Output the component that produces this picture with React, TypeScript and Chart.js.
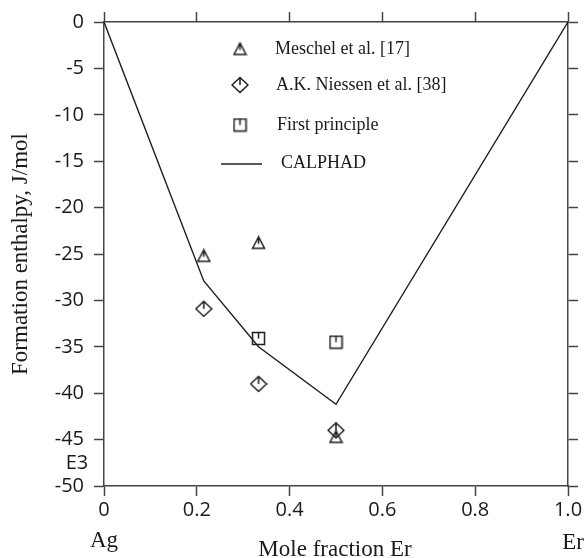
import React, { useEffect, useRef } from "react";
import { Chart, registerables } from "chart.js";

Chart.register(...registerables);

const calphadX = [0, 0.215, 0.333, 0.5, 1.0];
const calphadY = [0, -27.9, -35.0, -41.2, 0];
const meschelX = [0.215, 0.333, 0.5];
const meschelY = [-25.2, -23.8, -44.7];
const niessenX = [0.215, 0.333, 0.5];
const niessenY = [-30.9, -39.0, -44.0];
const firstX = [0.333, 0.5];
const firstY = [-34.1, -34.5];

const xTickLabels = ["0", "0.2", "0.4", "0.6", "0.8", "1.0"];
const yTickLabels = ["-50", "-45", "-40", "-35", "-30", "-25", "-20", "-15", "-10", "-5", "0"];

const seriesNames = ["Meschel et al. [17]", "A.K. Niessen et al. [38]", "First principle", "CALPHAD"];

const INK = "#1e1e1e";
const AXIS = "#444";

function makeMarker(kind: string): HTMLCanvasElement {
  const c = document.createElement("canvas");
  const s = kind === "diamond" ? 18 : 15;
  c.width = s;
  c.height = s;
  const g = c.getContext("2d")!;
  g.strokeStyle = INK;
  g.lineWidth = 1.5;
  const m = s / 2;
  g.beginPath();
  if (kind === "triangle") {
    g.moveTo(m, 1.5);
    g.lineTo(1.5, s - 2);
    g.lineTo(s - 1.5, s - 2);
    g.closePath();
    g.moveTo(m, 1.5);
    g.lineTo(m, m + 1);
  } else if (kind === "diamond") {
    g.moveTo(m, 1.5);
    g.lineTo(s - 1, m);
    g.lineTo(m, s - 1.5);
    g.lineTo(1, m);
    g.closePath();
    g.moveTo(m, 1.5);
    g.lineTo(m, m);
  } else {
    g.rect(1.5, 1.5, s - 3, s - 3);
    g.moveTo(m, 1.5);
    g.lineTo(m, m);
  }
  g.stroke();
  return c;
}

export default function App() {
  const ref = useRef<HTMLCanvasElement | null>(null);

  useEffect(() => {
    document.body.style.margin = "0";
    const tri = makeMarker("triangle");
    const dia = makeMarker("diamond");
    const sq = makeMarker("square");

    const overlay = {
      id: "overlay",
      afterDraw(chart: any) {
        const ctx = chart.ctx;
        ctx.save();
        ctx.fillStyle = "#1a1a1a";
        // legend
        ctx.font = "18px 'Liberation Serif'";
        ctx.textAlign = "left";
        ctx.textBaseline = "middle";
        const rows = [
          { img: tri, y: 49, tx: 275 },
          { img: dia, y: 85, tx: 276 },
          { img: sq, y: 125, tx: 277 },
        ];
        rows.forEach((r, i) => {
          ctx.drawImage(r.img, 240 - r.img.width / 2, r.y - r.img.height / 2);
          ctx.fillText(seriesNames[i], r.tx, r.y);
        });
        ctx.strokeStyle = "#222";
        ctx.lineWidth = 1.3;
        ctx.beginPath();
        ctx.moveTo(221, 164);
        ctx.lineTo(262, 164);
        ctx.stroke();
        ctx.fillText(seriesNames[3], 281, 163);

        // axis titles
        ctx.font = "23px 'Liberation Serif'";
        ctx.textAlign = "center";
        ctx.textBaseline = "alphabetic";
        ctx.fillText("Mole fraction Er", 335, 556);
        ctx.fillText("Ag", 104, 547);
        ctx.fillText("Er", 573, 549);
        ctx.save();
        ctx.translate(27, 254);
        ctx.rotate(-Math.PI / 2);
        ctx.textBaseline = "alphabetic";
        ctx.fillText("Formation enthalpy, J/mol", 0, 0);
        ctx.restore();

        ctx.font = "20px 'Open Sans'";
        ctx.textAlign = "center";
        ctx.textBaseline = "middle";
        ctx.fillText("E3", 77, 463);
        ctx.restore();
      },
    };

    const axisCommon = {
      type: "linear",
      grid: {
        drawOnChartArea: false,
        drawTicks: true,
        tickLength: 10,
        tickColor: AXIS,
        tickWidth: 1.5,
      },
      border: { display: true, color: AXIS, width: 1.5 },
    };

    const chart = new Chart(ref.current!, {
      type: "scatter",
      data: {
        datasets: [
          {
            label: seriesNames[3],
            type: "line",
            data: calphadX.map((x, i) => ({ x, y: calphadY[i] })),
            borderColor: "#1e1e1e",
            borderWidth: 1.4,
            pointRadius: 0,
            tension: 0,
            fill: false,
          },
          {
            label: seriesNames[0],
            data: meschelX.map((x, i) => ({ x, y: meschelY[i] })),
            pointStyle: tri,
            pointRadius: 7,
          },
          {
            label: seriesNames[1],
            data: niessenX.map((x, i) => ({ x, y: niessenY[i] })),
            pointStyle: dia,
            pointRadius: 8,
          },
          {
            label: seriesNames[2],
            data: firstX.map((x, i) => ({ x, y: firstY[i] })),
            pointStyle: sq,
            pointRadius: 7,
          },
        ] as any,
      },
      options: {
        animation: false,
        responsive: false,
        maintainAspectRatio: false,
        layout: { padding: 0 },
        plugins: {
          legend: { display: false },
          tooltip: { enabled: false },
        },
        scales: {
          x: {
            ...axisCommon,
            position: "bottom",
            min: 0,
            max: 1,
            ticks: {
              stepSize: 0.2,
              color: "#1a1a1a",
              font: { family: "'Open Sans'", size: 20 },
              padding: 2,
              maxRotation: 0,
              callback: (_v: any, i: number) => xTickLabels[i],
            },
            afterFit: (s: any) => {
              s.height = 72;
            },
          },
          x2: {
            ...axisCommon,
            position: "top",
            min: 0,
            max: 1,
            ticks: { stepSize: 0.2, display: false },
            afterFit: (s: any) => {
              s.height = 22;
            },
          },
          y: {
            ...axisCommon,
            position: "left",
            min: -50,
            max: 0,
            ticks: {
              stepSize: 5,
              color: "#1a1a1a",
              font: { family: "'Open Sans'", size: 20 },
              padding: 10,
              callback: (_v: any, i: number) => yTickLabels[i],
            },
            afterFit: (s: any) => {
              s.width = 104;
            },
          },
          y2: {
            ...axisCommon,
            position: "right",
            min: -50,
            max: 0,
            ticks: { stepSize: 5, display: false },
            afterFit: (s: any) => {
              s.width = 17;
            },
          },
        } as any,
      },
      plugins: [overlay],
    });
    return () => chart.destroy();
  }, []);

  return (
    <div style={{ width: 585, height: 558 }}>
      <canvas ref={ref} width={585} height={558} style={{ width: 585, height: 558, display: "block" }} />
    </div>
  );
}
